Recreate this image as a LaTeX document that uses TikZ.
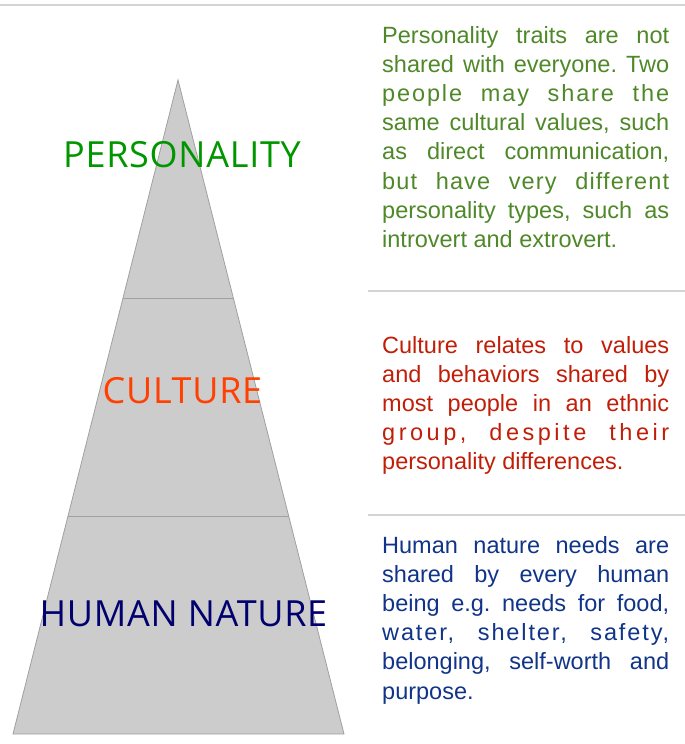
\documentclass[tikz,border=0pt]{standalone}
\usepackage{fontspec}
\setmainfont{Liberation Sans}
\newfontfamily\levelfont[LetterSpace=2]{Open Sans}
\usetikzlibrary{calc,positioning}
\definecolor{persgreen}{RGB}{0,150,0}
\definecolor{cultred}{RGB}{255,64,0}
\definecolor{humanblue}{RGB}{0,0,110}
\definecolor{notegreen}{RGB}{78,136,40}
\definecolor{notered}{RGB}{192,30,8}
\definecolor{noteblue}{RGB}{16,52,136}
\definecolor{pyrfill}{RGB}{204,204,204}
\definecolor{pyredge}{RGB}{160,160,160}
\definecolor{rulegray}{RGB}{212,212,212}
\tikzset{level/.style={anchor=base,inner sep=0pt,font=\levelfont\fontsize{36}{40}\selectfont}}
\tikzset{note/.style={anchor=base west,inner sep=0pt,text width=287pt,align=justify,font=\frenchspacing\fontsize{23.5}{29.2}\selectfont}}
\tikzset{rule/.style={draw=rulegray,line width=1.5pt}}
\tikzset{pyramid/.style={draw=pyredge,fill=pyrfill,line width=0.8pt}}
\tikzset{tier/.style={draw=pyredge,line width=0.8pt}}

\begin{document}
\begin{tikzpicture}[x=1pt,y=-1pt]
    \useasboundingbox (0,0) rectangle (685,744);

    % pyramid
    \coordinate (apex) at (178,80);
    \coordinate (bl) at (13,734);
    \coordinate (br) at (344,734);
    \coordinate (l1) at ($(apex)!1/3!(bl)$);
    \coordinate (r1) at ($(apex)!1/3!(br)$);
    \coordinate (l2) at ($(apex)!2/3!(bl)$);
    \coordinate (r2) at ($(apex)!2/3!(br)$);
    \path[pyramid] (apex) -- (bl) -- (br) -- cycle;
    \path[tier] (l1) -- (r1);
    \path[tier] (l2) -- (r2);

    \node[level,text=persgreen] (pers) at (182,167) {PERSONALITY};
    \node[level,text=cultred] (cult) at (182.5,403) {CULTURE};
    \node[level,text=humanblue] (human) at (183.5,626) {HUMAN NATURE};

    % separators
    \coordinate (t1) at (0,5);
    \coordinate (t2) at (685,5);
    \coordinate (s1) at (368,291);
    \coordinate (s2) at (685,291);
    \coordinate (s3) at (368,515);
    \coordinate (s4) at (685,515);
    \path[rule] (t1) -- (t2);
    \path[rule] (s1) -- (s2);
    \path[rule] (s3) -- (s4);

    % notes
    \node[note,text=notegreen] (npers) at (382,43) {Personality traits are not\linebreak
      shared with everyone. Two\linebreak
      {\addfontfeature{LetterSpace=8}people may share the}\linebreak
      same cultural values, such\linebreak
      as direct communication,\linebreak
      {\addfontfeature{LetterSpace=5}but have very different}\linebreak
      personality types, such as\linebreak
      introvert and extrovert.};
    \node[note,text=notered] (ncult) at (382,353) {Culture relates to values\linebreak
      and behaviors shared by\linebreak
      most people in an ethnic\linebreak
      {\addfontfeature{LetterSpace=15}group, despite their}\linebreak
      personality differences.};
    \node[note,text=noteblue] (nhuman) at (382,553) {Human nature needs are\linebreak
      shared by every human\linebreak
      being e.g. needs for food,\linebreak
      {\addfontfeature{LetterSpace=8}water, shelter, safety,}\linebreak
      belonging, self-worth and\linebreak
      purpose.};
\end{tikzpicture}
\end{document}
